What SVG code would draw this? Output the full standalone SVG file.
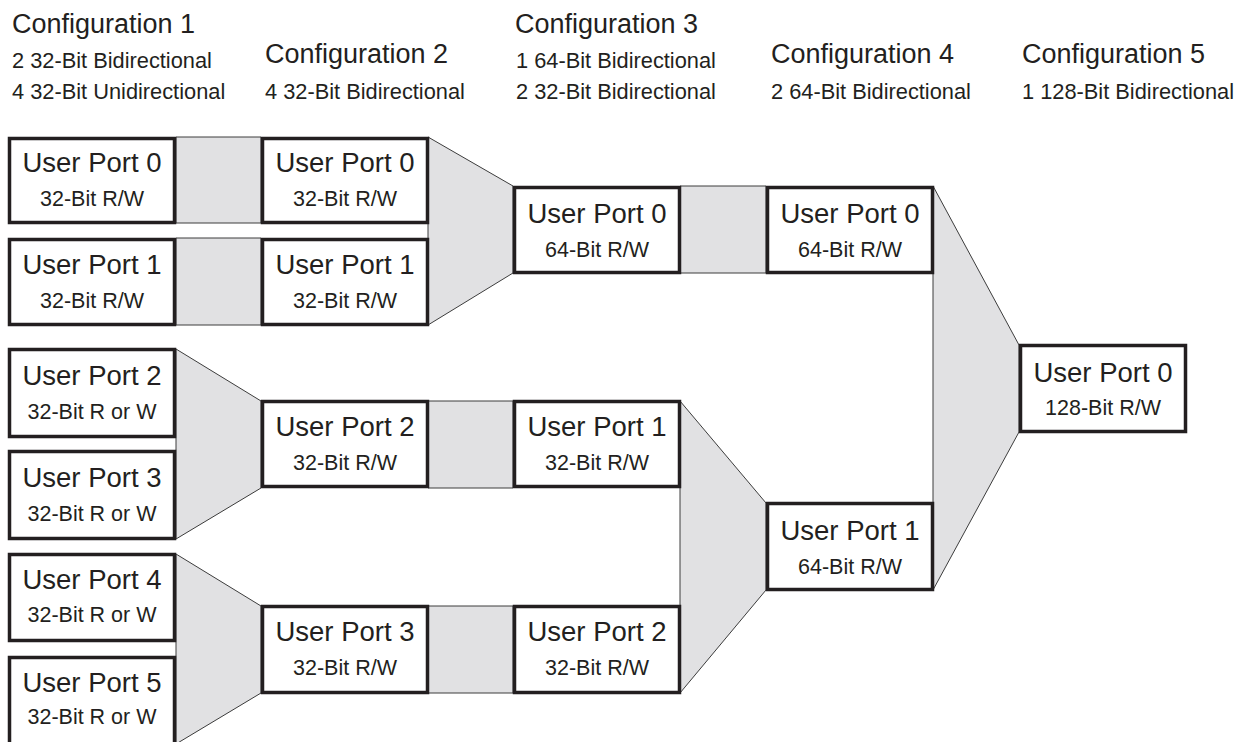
<svg xmlns="http://www.w3.org/2000/svg" width="1247" height="742" viewBox="0 0 1247 742">
<style>
.hdr{font-family:"Liberation Sans",Arial,sans-serif;font-size:27px;fill:#231f20}
.sub{font-family:"Liberation Sans",Arial,sans-serif;font-size:21.8px;fill:#231f20}
.box rect{fill:#fff;stroke:#231f20;stroke-width:3.5}
.t1{font-family:"Liberation Sans",Arial,sans-serif;font-size:27.5px;fill:#231f20;text-anchor:middle}
.t2{font-family:"Liberation Sans",Arial,sans-serif;font-size:21.5px;fill:#231f20;text-anchor:middle}
.conn polygon{fill:#e1e1e3;stroke:#3c3c3c;stroke-width:1}
</style>
<rect width="1247" height="742" fill="#fff"/>
<g id="headers">
<text class="hdr" x="12" y="33">Configuration 1</text>
<text class="sub" x="12" y="68">2 32-Bit Bidirectional</text>
<text class="sub" x="12" y="99">4 32-Bit Unidirectional</text>
<text class="hdr" x="265" y="63">Configuration 2</text>
<text class="sub" x="265" y="99">4 32-Bit Bidirectional</text>
<text class="hdr" x="515" y="33">Configuration 3</text>
<text class="sub" x="516" y="68">1 64-Bit Bidirectional</text>
<text class="sub" x="516" y="99">2 32-Bit Bidirectional</text>
<text class="hdr" x="771" y="63">Configuration 4</text>
<text class="sub" x="771" y="99">2 64-Bit Bidirectional</text>
<text class="hdr" x="1022" y="63">Configuration 5</text>
<text class="sub" x="1022" y="99">1 128-Bit Bidirectional</text>
</g>
<g id="connectors" class="conn">
<polygon points="176,137 261,137 261,223 176,223"/>
<polygon points="176,238 261,238 261,325 176,325"/>
<polygon points="428,401 513,401 513,488 428,488"/>
<polygon points="428,606 513,606 513,693 428,693"/>
<polygon points="680,186 766,186 766,273 680,273"/>
<polygon points="176,349 261,401 261,488 176,539"/>
<polygon points="176,554 261,606 261,693 176,744"/>
<polygon points="428,137 513,186 513,273 428,325"/>
<polygon points="680,401 766,503 766,590 680,693"/>
<polygon points="933,186 1019,345 1019,432 933,590"/>
</g>
<g id="c1-up0" class="box"><rect x="9.5" y="138.5" width="165" height="84"/><text class="t1" x="92" y="172">User Port 0</text><text class="t2" x="92" y="206">32-Bit R/W</text></g>
<g id="c1-up1" class="box"><rect x="9.5" y="239.5" width="165" height="85"/><text class="t1" x="92" y="274">User Port 1</text><text class="t2" x="92" y="308">32-Bit R/W</text></g>
<g id="c1-up2" class="box"><rect x="9.5" y="349.5" width="165" height="87"/><text class="t1" x="92" y="385">User Port 2</text><text class="t2" x="92" y="419">32-Bit R or W</text></g>
<g id="c1-up3" class="box"><rect x="9.5" y="451.5" width="165" height="87"/><text class="t1" x="92" y="487">User Port 3</text><text class="t2" x="92" y="521">32-Bit R or W</text></g>
<g id="c1-up4" class="box"><rect x="9.5" y="554.5" width="165" height="86"/><text class="t1" x="92" y="589">User Port 4</text><text class="t2" x="92" y="622">32-Bit R or W</text></g>
<g id="c1-up5" class="box"><rect x="9.5" y="657.5" width="165" height="87"/><text class="t1" x="92" y="692">User Port 5</text><text class="t2" x="92" y="724">32-Bit R or W</text></g>
<g id="c2-up0" class="box"><rect x="262.5" y="138.5" width="165" height="84"/><text class="t1" x="345" y="172">User Port 0</text><text class="t2" x="345" y="206">32-Bit R/W</text></g>
<g id="c2-up1" class="box"><rect x="262.5" y="239.5" width="165" height="85"/><text class="t1" x="345" y="274">User Port 1</text><text class="t2" x="345" y="308">32-Bit R/W</text></g>
<g id="c2-up2" class="box"><rect x="262.5" y="401.5" width="165" height="85"/><text class="t1" x="345" y="436">User Port 2</text><text class="t2" x="345" y="470">32-Bit R/W</text></g>
<g id="c2-up3" class="box"><rect x="262.5" y="606.5" width="165" height="86"/><text class="t1" x="345" y="641">User Port 3</text><text class="t2" x="345" y="675">32-Bit R/W</text></g>
<g id="c3-up0" class="box"><rect x="514.5" y="187.5" width="165" height="85"/><text class="t1" x="597" y="223">User Port 0</text><text class="t2" x="597" y="257">64-Bit R/W</text></g>
<g id="c3-up1" class="box"><rect x="514.5" y="401.5" width="165" height="85"/><text class="t1" x="597" y="436">User Port 1</text><text class="t2" x="597" y="470">32-Bit R/W</text></g>
<g id="c3-up2" class="box"><rect x="514.5" y="606.5" width="165" height="86"/><text class="t1" x="597" y="641">User Port 2</text><text class="t2" x="597" y="675">32-Bit R/W</text></g>
<g id="c4-up0" class="box"><rect x="767.5" y="187.5" width="165" height="85"/><text class="t1" x="850" y="223">User Port 0</text><text class="t2" x="850" y="257">64-Bit R/W</text></g>
<g id="c4-up1" class="box"><rect x="767.5" y="503.5" width="165" height="86"/><text class="t1" x="850" y="540">User Port 1</text><text class="t2" x="850" y="574">64-Bit R/W</text></g>
<g id="c5-up0" class="box"><rect x="1020.5" y="345.5" width="165" height="86"/><text class="t1" x="1103" y="382">User Port 0</text><text class="t2" x="1103" y="415">128-Bit R/W</text></g>
</svg>
